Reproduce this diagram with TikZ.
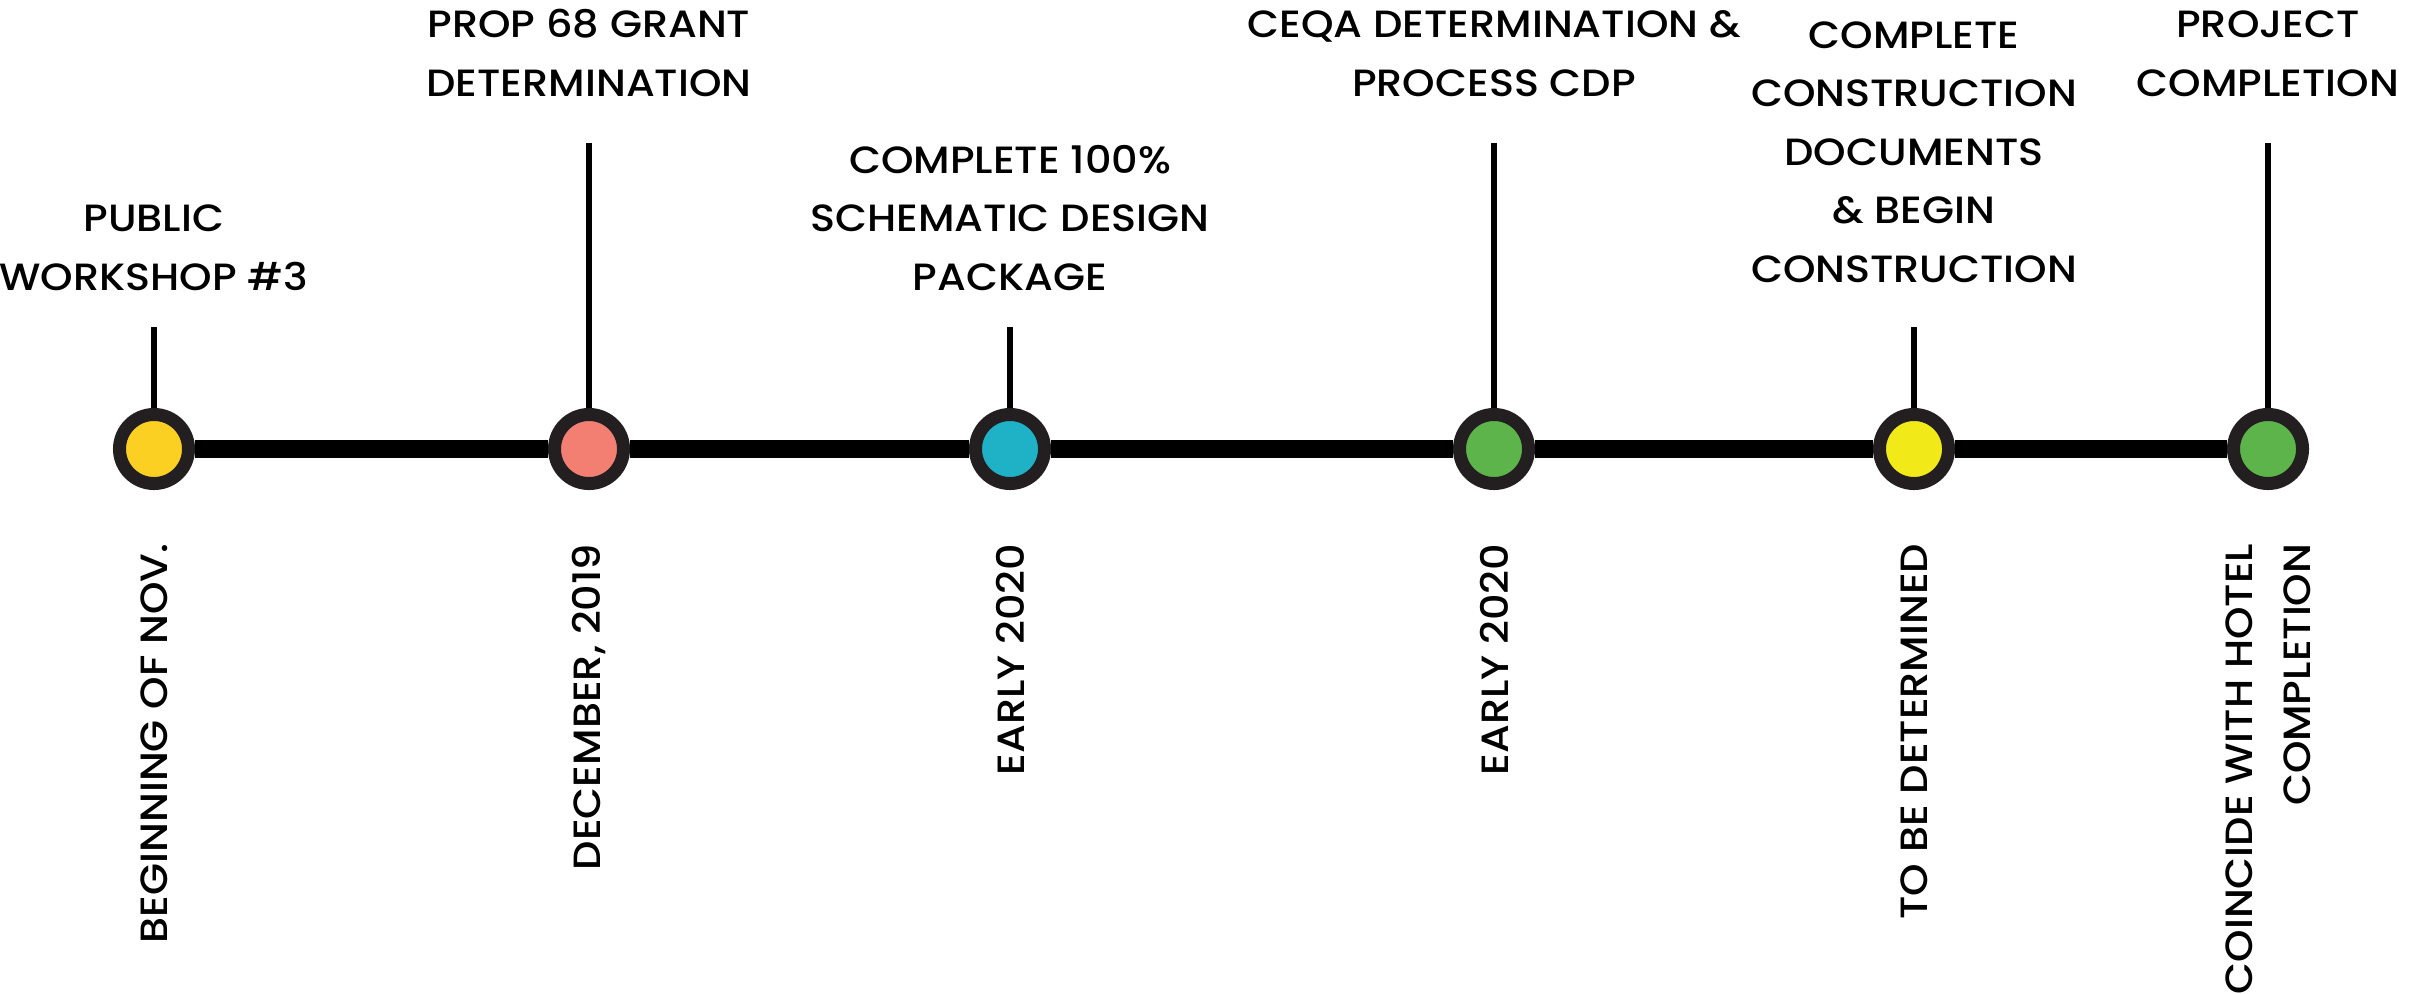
\documentclass[tikz,border=0pt]{standalone}
\usepackage{fontspec}
\IfFontExistsTF{Poppins Medium}
  {\setmainfont{Poppins Medium}[FakeStretch=1.09]}
  {\setmainfont{Poppins}[FakeBold=0.4,FakeStretch=1.1]}
\usetikzlibrary{positioning}
\definecolor{ring}{HTML}{231F20}
\definecolor{gold}{HTML}{FBD022}
\definecolor{salmon}{HTML}{F37F72}
\definecolor{tealdot}{HTML}{1FB1C6}
\definecolor{leaf}{HTML}{5DB44A}
\definecolor{lemon}{HTML}{F2EA18}
\begin{document}
\begin{tikzpicture}[x=0.01cm,y=0.01cm,
    milestone/.style={circle,draw=ring,line width=0.13cm,minimum size=0.69cm,inner sep=0pt},
    event/.style={align=center,inner sep=0pt,anchor=south,font=\fontsize{10.8}{16.6}\selectfont},
    when/.style={rotate=90,anchor=east,inner sep=0pt,font=\fontsize{10.8}{16.6}\selectfont}]
  \useasboundingbox (0,0) rectangle (2428,993);
  \draw
    (154,544) node[milestone,fill=gold] (m0){}
    (589,544) node[milestone,fill=salmon] (m1){}
    (1010,544) node[milestone,fill=tealdot] (m2){}
    (1494,544) node[milestone,fill=leaf] (m3){}
    (1914,544) node[milestone,fill=lemon] (m4){}
    (2268,544) node[milestone,fill=leaf] (m5){};
  \coordinate (s0) at (154,666);
  \coordinate (s1) at (589,850);
  \coordinate (s2) at (1010,666);
  \coordinate (s3) at (1494,850);
  \coordinate (s4) at (1914,666);
  \coordinate (s5) at (2268,850);
  \begin{scope}[line width=0.17cm]
    \draw (m0) -- (m1) -- (m2) -- (m3) -- (m4) -- (m5);
  \end{scope}
  \begin{scope}[line width=0.057cm]
    \draw (s0) -- (m0);
    \draw (s1) -- (m1);
    \draw (s2) -- (m2);
    \draw (s3) -- (m3);
    \draw (s4) -- (m4);
    \draw (s5) -- (m5);
  \end{scope}
  % what happens
  \node[event] (t0) at (154,702) {PUBLIC\\WORKSHOP \#3};
  \node[event] (t1) at (589,896) {PROP 68 GRANT\\DETERMINATION};
  \node[event] (t2) at (1010,702) {COMPLETE 100\%\\SCHEMATIC DESIGN\\PACKAGE};
  \node[event] (t3) at (1494,896) {CEQA DETERMINATION \&\\PROCESS CDP};
  \node[event] (t4) at (1914,710) {COMPLETE\\CONSTRUCTION\\DOCUMENTS\\\& BEGIN\\CONSTRUCTION};
  \node[event] (t5) at (2268,896) {PROJECT\\COMPLETION};
  % when it happens
  \node[when] (d0) at (154,450) {BEGINNING OF NOV.};
  \node[when] (d1) at (589,450) {DECEMBER, 2019};
  \node[when] (d2) at (1010,450) {EARLY 2020};
  \node[when] (d3) at (1494,450) {EARLY 2020};
  \node[when] (d4) at (1914,450) {TO BE DETERMINED};
  \node[when,align=right] (d5) at (2268,450) {COINCIDE WITH HOTEL\\COMPLETION};
\end{tikzpicture}
\end{document}
